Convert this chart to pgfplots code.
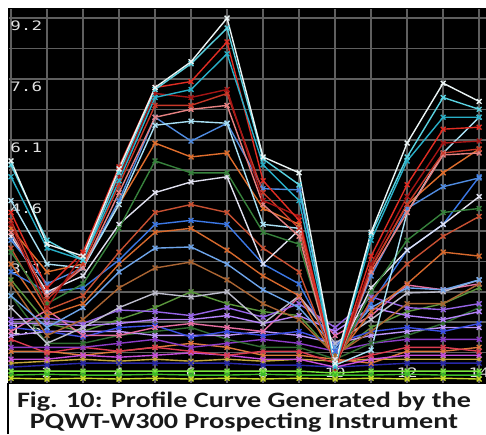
\documentclass[border=0pt]{standalone}
\usepackage{fontspec}
\usepackage{pgfplots}
\pgfplotsset{compat=1.18}

\newfontfamily\pixfont{DejaVu Sans Mono}[FakeStretch=1.35]
\newfontfamily\capfont{Carlito}[FakeStretch=1.28]

\definecolor{gridgray}{RGB}{95,95,95}
\definecolor{lblgray}{RGB}{225,225,225}
% high group
\definecolor{hwhite}{RGB}{235,245,245}
\definecolor{hcyan}{RGB}{90,210,225}
\definecolor{hcyandk}{RGB}{40,175,200}
\definecolor{hred}{RGB}{225,45,35}
\definecolor{hdkred}{RGB}{165,20,20}
\definecolor{hred2}{RGB}{200,55,40}
\definecolor{hsalmon}{RGB}{230,130,130}
\definecolor{hltcyan}{RGB}{170,225,245}
% mid group
\definecolor{mblue}{RGB}{80,140,225}
\definecolor{morange}{RGB}{225,110,45}
\definecolor{mgreen}{RGB}{55,130,60}
\definecolor{mwhite}{RGB}{225,225,240}
\definecolor{mblue2}{RGB}{60,120,230}
\definecolor{morange2}{RGB}{215,105,45}
\definecolor{mltblue}{RGB}{110,165,235}
\definecolor{mbrown}{RGB}{170,100,50}
\definecolor{mgray}{RGB}{190,190,205}
\definecolor{morange3}{RGB}{200,80,50}
% low group
\definecolor{lpurple}{RGB}{150,100,230}
\definecolor{lviolet}{RGB}{180,130,250}
\definecolor{lpink}{RGB}{230,110,160}
\definecolor{lblue}{RGB}{60,80,230}
\definecolor{ldkgreen}{RGB}{50,110,50}
\definecolor{lpurple2}{RGB}{140,60,200}
\definecolor{lred}{RGB}{220,60,80}
\definecolor{lmagenta}{RGB}{200,80,220}
\definecolor{lorange}{RGB}{220,120,60}
\definecolor{ldkblue}{RGB}{40,40,170}
\definecolor{llavender}{RGB}{190,150,250}
\definecolor{lgold}{RGB}{200,170,60}
\definecolor{lolive}{RGB}{90,150,60}
\definecolor{llime}{RGB}{120,230,60}
\definecolor{lgreen}{RGB}{60,190,40}
\definecolor{lyellow}{RGB}{200,220,40}

\begin{document}
\begin{tikzpicture}
\path[use as bounding box] (0,0) rectangle (243pt,217pt);
\begin{axis}[
  at={(4pt,25.5pt)}, anchor=south west,
  scale only axis, width=239pt, height=187.5pt,
  xmin=0.917, xmax=14.19, ymin=0, ymax=9.455,
  axis background/.style={fill=black},
  axis line style={draw=black},
  xtick={2,4,6,8,10,12,14}, xticklabels={2,4,6,8,10,12,14},
  minor xtick={1,3,5,7,9,11,13},
  ytick={1.5333,3.0667,4.6,6.1333,7.6667,9.2},
  yticklabels={1.5,3.1,4.6,6.1,7.6,9.2},
  minor ytick={0.7667,2.3,3.8333,5.3667,6.9,8.4333},
  grid=both,
  major grid style={gridgray, line width=0.75pt},
  minor grid style={gridgray, line width=0.75pt},
  major tick length=0pt, minor tick length=0pt,
  tick label style={text=lblgray, font=\pixfont\fontsize{6.5}{6.5}\selectfont, inner sep=0pt},
  yticklabel style={anchor=north west, xshift=1pt, yshift=-1.2pt},
  xticklabel style={anchor=south, yshift=2.5pt},
  every axis plot/.append style={mark=x, mark size=1.7pt, line width=0.7pt},
]
% low curves
\addplot[lolive] coordinates {(1,2.6)(2,1.5)(3,1.3)(4,1.6)(5,1.9)(6,2.3)(7,2.0)(8,1.8)(9,1.7)(10,0.7)(11,1.4)(12,1.8)(13,2.0)(14,2.4)};
\addplot[lgold] coordinates {(1,0.5)(2,0.55)(3,0.6)(4,0.55)(5,0.6)(6,0.55)(7,0.6)(8,0.55)(9,0.6)(10,0.55)(11,0.6)(12,0.6)(13,0.6)(14,0.6)};
\addplot[ldkblue] coordinates {(1,0.4)(2,0.45)(3,0.5)(4,0.5)(5,0.5)(6,0.5)(7,0.5)(8,0.45)(9,0.45)(10,0.4)(11,0.45)(12,0.5)(13,0.5)(14,0.5)};
\addplot[lorange] coordinates {(1,0.8)(2,0.8)(3,0.7)(4,0.8)(5,0.9)(6,1.0)(7,0.9)(8,0.7)(9,0.7)(10,0.6)(11,0.5)(12,0.8)(13,0.8)(14,0.9)};
\addplot[lmagenta] coordinates {(1,0.6)(2,0.6)(3,0.7)(4,0.65)(5,0.7)(6,0.76)(7,0.7)(8,0.6)(9,0.6)(10,0.4)(11,0.6)(12,0.7)(13,0.7)(14,0.7)};
\addplot[lred] coordinates {(1,1.1)(2,0.76)(3,0.9)(4,0.8)(5,0.9)(6,0.8)(7,0.7)(8,0.8)(9,0.8)(10,0.5)(11,0.7)(12,0.9)(13,0.9)(14,0.8)};
\addplot[lpurple2] coordinates {(1,0.9)(2,0.9)(3,0.9)(4,1.0)(5,1.1)(6,0.9)(7,1.0)(8,1.1)(9,1.0)(10,0.8)(11,1.0)(12,1.1)(13,1.1)(14,1.1)};
\addplot[ldkgreen] coordinates {(1,2.2)(2,1.0)(3,1.0)(4,1.2)(5,1.3)(6,1.4)(7,1.1)(8,0.9)(9,0.9)(10,0.6)(11,1.0)(12,1.2)(13,1.5)(14,1.9)};
\addplot[llavender] coordinates {(1,1.2)(2,1.3)(3,1.3)(4,1.3)(5,1.2)(6,1.2)(7,1.2)(8,1.3)(9,1.2)(10,1.0)(11,1.2)(12,1.3)(13,1.4)(14,1.4)};
\addplot[lblue] coordinates {(1,1.4)(2,1.3)(3,1.16)(4,1.4)(5,1.45)(6,1.16)(7,1.3)(8,1.2)(9,1.3)(10,1.0)(11,1.3)(12,1.4)(13,1.3)(14,1.5)};
\addplot[lpink] coordinates {(1,1.3)(2,1.84)(3,1.2)(4,1.2)(5,1.4)(6,1.5)(7,1.4)(8,1.3)(9,2.17)(10,1.2)(11,1.7)(12,2.47)(13,2.35)(14,2.5)};
\addplot[lviolet] coordinates {(1,1.5)(2,1.5)(3,1.45)(4,1.5)(5,1.6)(6,1.6)(7,1.7)(8,1.5)(9,1.7)(10,1.3)(11,1.9)(12,1.7)(13,1.6)(14,1.8)};
\addplot[lpurple] coordinates {(1,1.6)(2,1.64)(3,1.5)(4,1.84)(5,1.8)(6,1.7)(7,1.9)(8,1.66)(9,2.0)(10,1.4)(11,2.17)(12,1.9)(13,1.85)(14,2.0)};
% mid curves
\addplot[mgray] coordinates {(1,1.9)(2,1.0)(3,1.4)(4,1.9)(5,2.27)(6,2.17)(7,2.3)(8,1.5)(9,2.2)(10,1.0)(11,1.6)(12,2.27)(13,2.3)(14,2.6)};
\addplot[mbrown] coordinates {(1,2.5)(2,1.2)(3,1.6)(4,2.4)(5,2.9)(6,3.05)(7,2.6)(8,2.0)(9,1.6)(10,0.7)(11,1.3)(12,2.0)(13,2.0)(14,2.5)};
\addplot[mltblue] coordinates {(1,2.2)(2,1.4)(3,1.9)(4,2.8)(5,3.4)(6,3.43)(7,3.0)(8,2.35)(9,1.9)(10,0.9)(11,1.9)(12,2.4)(13,2.35)(14,2.6)};
\addplot[morange2] coordinates {(1,3.0)(2,1.7)(3,2.0)(4,3.0)(5,3.8)(6,3.9)(7,3.35)(8,2.7)(9,2.2)(10,0.6)(11,1.8)(12,2.5)(13,3.3)(14,3.2)};
\addplot[mblue2] coordinates {(1,2.8)(2,2.3)(3,2.4)(4,3.1)(5,4.0)(6,4.1)(7,4.0)(8,3.0)(9,2.5)(10,0.8)(11,2.0)(12,3.35)(13,4.0)(14,5.2)};
\addplot[morange3] coordinates {(1,3.4)(2,1.84)(3,2.2)(4,3.3)(5,4.3)(6,4.5)(7,4.3)(8,3.4)(9,2.8)(10,0.5)(11,2.1)(12,3.0)(13,3.7)(14,4.2)};
\addplot[mwhite] coordinates {(1,3.7)(2,2.3)(3,2.7)(4,4.0)(5,4.8)(6,5.07)(7,5.2)(8,3.0)(9,3.86)(10,0.6)(11,2.4)(12,3.35)(13,4.0)(14,4.7)};
\addplot[mgreen] coordinates {(1,3.3)(2,2.0)(3,2.5)(4,3.9)(5,5.6)(6,5.3)(7,5.3)(8,3.8)(9,3.5)(10,0.5)(11,2.3)(12,3.6)(13,4.3)(14,4.4)};
\addplot[morange] coordinates {(1,3.9)(2,2.8)(3,3.0)(4,4.5)(5,6.05)(6,5.7)(7,5.8)(8,4.4)(9,4.0)(10,0.45)(11,2.9)(12,4.5)(13,5.3)(14,5.9)};
\addplot[mblue] coordinates {(1,3.6)(2,2.5)(3,2.9)(4,4.6)(5,6.7)(6,6.1)(7,6.55)(8,4.9)(9,4.87)(10,0.5)(11,2.7)(12,4.4)(13,4.95)(14,5.17)};
% high curves
\addplot[hltcyan] coordinates {(1,4.6)(2,3.0)(3,2.9)(4,4.5)(5,6.5)(6,6.6)(7,6.55)(8,4.0)(9,3.9)(10,0.45)(11,0.83)(12,4.3)(13,5.8)(14,6.7)};
\addplot[hsalmon] coordinates {(1,3.8)(2,2.2)(3,2.9)(4,4.8)(5,6.7)(6,6.9)(7,7.0)(8,4.5)(9,3.7)(10,0.35)(11,2.8)(12,4.3)(13,5.75)(14,5.8)};
\addplot[hred2] coordinates {(1,4.1)(2,2.1)(3,3.0)(4,5.0)(5,7.0)(6,7.0)(7,7.3)(8,4.8)(9,3.9)(10,0.4)(11,2.9)(12,4.5)(13,5.8)(14,5.9)};
\addplot[hdkred] coordinates {(1,4.0)(2,1.9)(3,3.25)(4,5.2)(5,7.3)(6,7.2)(7,7.4)(8,4.6)(9,4.2)(10,0.35)(11,3.0)(12,4.7)(13,6.05)(14,6.1)};
\addplot[hred] coordinates {(1,4.3)(2,2.4)(3,3.3)(4,5.45)(5,7.45)(6,7.6)(7,8.6)(8,5.1)(9,4.1)(10,0.4)(11,3.2)(12,5.0)(13,6.4)(14,6.45)};
\addplot[hcyandk] coordinates {(1,5.2)(2,3.4)(3,3.1)(4,5.1)(5,7.2)(6,7.4)(7,8.3)(8,5.5)(9,4.6)(10,0.4)(11,3.6)(12,5.6)(13,6.7)(14,6.7)};
\addplot[hcyan] coordinates {(1,5.5)(2,3.6)(3,3.1)(4,5.3)(5,7.4)(6,8.05)(7,8.95)(8,5.65)(9,5.0)(10,0.45)(11,3.75)(12,5.7)(13,7.2)(14,6.9)};
\addplot[hwhite] coordinates {(1,5.6)(2,3.5)(3,3.2)(4,5.4)(5,7.45)(6,8.1)(7,9.2)(8,5.7)(9,5.3)(10,0.5)(11,3.8)(12,6.05)(13,7.56)(14,7.1)};
% bottom band
\addplot[llime] coordinates {(1,0.3)(2,0.3)(3,0.3)(4,0.3)(5,0.3)(6,0.3)(7,0.3)(8,0.3)(9,0.3)(10,0.25)(11,0.3)(12,0.3)(13,0.3)(14,0.3)};
\addplot[lgreen] coordinates {(1,0.2)(2,0.22)(3,0.2)(4,0.2)(5,0.22)(6,0.2)(7,0.2)(8,0.22)(9,0.2)(10,0.2)(11,0.2)(12,0.22)(13,0.2)(14,0.2)};
\addplot[lyellow] coordinates {(1,0.12)(2,0.1)(3,0.12)(4,0.1)(5,0.12)(6,0.1)(7,0.12)(8,0.1)(9,0.12)(10,0.1)(11,0.12)(12,0.1)(13,0.12)(14,0.1)};
\end{axis}
\draw[black, line width=1pt] (4pt,0) -- (4pt,25.5pt);
\node[anchor=base, inner sep=0pt, font=\capfont\bfseries\fontsize{11}{11}\selectfont, text={rgb,255:red,25;green,25;blue,25}]
  at (122pt,13.4pt) {Fig. 10: Profile Curve Generated by the};
\node[anchor=base, inner sep=0pt, font=\capfont\bfseries\fontsize{11}{11}\selectfont, text={rgb,255:red,25;green,25;blue,25}]
  at (122pt,2.9pt) {PQWT-W300 Prospecting Instrument};
\end{tikzpicture}
\end{document}
